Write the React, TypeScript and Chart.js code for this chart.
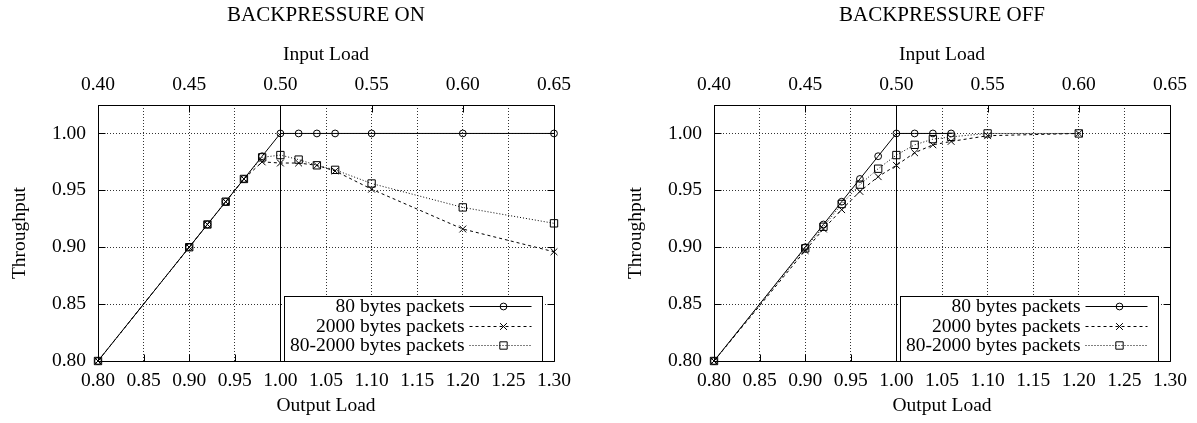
import React, { useEffect, useRef } from "react";
import { Chart, registerables } from "chart.js";

Chart.register(...registerables);

const SERIF = "'Liberation Serif', 'Times New Roman', Times, serif";

// Axis ticks: output load (bottom), input load (top), throughput (left)
const outputLoadTicks = [0.8, 0.85, 0.9, 0.95, 1.0, 1.05, 1.1, 1.15, 1.2, 1.25, 1.3];
const inputLoadTicks = [0.4, 0.45, 0.5, 0.55, 0.6, 0.65];
const throughputTicks = [0.8, 0.85, 0.9, 0.95, 1.0];

const seriesLabels = ["80 bytes packets", "2000 bytes packets", "80-2000 bytes packets"];

// Backpressure on
const onLoad = [0.8, 0.9, 0.92, 0.94, 0.96, 0.98, 1.0, 1.02, 1.04, 1.06, 1.1, 1.2, 1.3];
const on80 = [0.8, 0.9, 0.92, 0.94, 0.96, 0.98, 1.0, 1.0, 1.0, 1.0, 1.0, 1.0, 1.0];
const on2000 = [0.8, 0.9, 0.92, 0.94, 0.96, 0.975, 0.974, 0.974, 0.972, 0.967, 0.951, 0.916, 0.896];
const onMixed = [0.8, 0.9, 0.92, 0.94, 0.96, 0.979, 0.981, 0.977, 0.972, 0.968, 0.956, 0.935, 0.921];

// Backpressure off
const off80Load = [0.8, 0.9, 0.92, 0.94, 0.96, 0.98, 1.0, 1.02, 1.04, 1.06];
const off80 = [0.8, 0.9, 0.92, 0.94, 0.96, 0.98, 1.0, 1.0, 1.0, 1.0];
const offLoad = [0.8, 0.9, 0.92, 0.94, 0.96, 0.98, 1.0, 1.02, 1.04, 1.06, 1.1, 1.2];
const off2000 = [0.8, 0.897, 0.916, 0.933, 0.949, 0.962, 0.972, 0.983, 0.99, 0.993, 0.998, 1.0];
const offMixed = [0.8, 0.899, 0.918, 0.938, 0.955, 0.969, 0.981, 0.99, 0.995, 0.997, 1.0, 1.0];

type Marker = "circle" | "crossRot" | "rect";
const seriesStyles: { dash: number[]; marker: Marker; radius: number }[] = [
  { dash: [], marker: "circle", radius: 3.4 },
  { dash: [3, 3], marker: "crossRot", radius: 4.8 },
  { dash: [1, 2], marker: "rect", radius: 5.2 },
];

const CANVAS_W = 652;
const CANVAS_H = 423;
const AREA_TOP = 105;
const AREA_BOTTOM = 361;
const SIDE_W = 98;
const TITLE_SIZE = 21;
const TITLE_PAD_TOP = 3;
const TITLE_H = TITLE_SIZE * 1.2 + TITLE_PAD_TOP;
const TICK_LEN = 7;
const GRID = "rgba(0,0,0,0.8)";

const textFont = { family: SERIF, size: 19.5 };
const fmt = (v: any) => Number(v).toFixed(2);

function drawMarker(ctx: CanvasRenderingContext2D, marker: Marker, x: number, y: number, r: number) {
  ctx.beginPath();
  if (marker === "circle") {
    ctx.arc(x, y, r, 0, Math.PI * 2);
  } else if (marker === "crossRot") {
    const d = r * Math.SQRT1_2;
    ctx.moveTo(x - d, y - d);
    ctx.lineTo(x + d, y + d);
    ctx.moveTo(x + d, y - d);
    ctx.lineTo(x - d, y + d);
  } else {
    const d = r * Math.SQRT1_2;
    ctx.rect(x - d, y - d, 2 * d, 2 * d);
  }
  ctx.stroke();
}

// Frame, inward tick marks, the x = 1.00 line and the boxed key
const decorPlugin = {
  id: "decor",
  beforeDatasetsDraw(chart: any) {
    const { ctx, chartArea: a, scales } = chart;
    const px = Math.round(scales.x.getPixelForValue(1.0)) + 0.5;
    ctx.save();
    ctx.strokeStyle = "#000";
    ctx.lineWidth = 1;
    ctx.setLineDash([]);
    ctx.beginPath();
    ctx.moveTo(px, a.top);
    ctx.lineTo(px, a.bottom);
    ctx.stroke();
    ctx.restore();
  },
  afterDatasetsDraw(chart: any) {
    const { ctx, chartArea: a, scales } = chart;
    ctx.save();
    ctx.strokeStyle = "#000";
    ctx.lineWidth = 1;
    ctx.setLineDash([]);
    const L = Math.round(a.left) + 0.5;
    const R = Math.round(a.right) + 0.5;
    const T = Math.round(a.top) + 0.5;
    const B = Math.round(a.bottom) + 0.5;
    ctx.beginPath();
    outputLoadTicks.forEach((v) => {
      const p = Math.round(scales.x.getPixelForValue(v)) + 0.5;
      ctx.moveTo(p, B);
      ctx.lineTo(p, B - TICK_LEN);
    });
    inputLoadTicks.forEach((v) => {
      const p = Math.round(scales.x2.getPixelForValue(v)) + 0.5;
      ctx.moveTo(p, T);
      ctx.lineTo(p, T + TICK_LEN);
    });
    throughputTicks.forEach((v) => {
      const p = Math.round(scales.y.getPixelForValue(v)) + 0.5;
      ctx.moveTo(L, p);
      ctx.lineTo(L + TICK_LEN, p);
      ctx.moveTo(R, p);
      ctx.lineTo(R - TICK_LEN, p);
    });
    ctx.stroke();

    // key
    const boxW = 258;
    const boxH = 65;
    const bx = Math.round(a.right - 12 - boxW) + 0.5;
    const by = Math.round(a.bottom - boxH) + 0.5;
    ctx.fillStyle = "#fff";
    ctx.fillRect(bx, by, boxW, boxH);
    ctx.strokeRect(bx, by, boxW, boxH);
    ctx.font = `${textFont.size}px ${SERIF}`;
    ctx.textAlign = "right";
    ctx.textBaseline = "alphabetic";
    ctx.fillStyle = "#000";
    chart.data.datasets.forEach((ds: any, i: number) => {
      const st = seriesStyles[i];
      const base = by + 15.7 + i * 19.3;
      ctx.fillText(ds.label, bx + 180, base);
      const ly = Math.round(base - 6) + 0.5;
      ctx.setLineDash(st.dash);
      ctx.beginPath();
      ctx.moveTo(bx + 185, ly);
      ctx.lineTo(bx + 247, ly);
      ctx.stroke();
      ctx.setLineDash([]);
      drawMarker(ctx, st.marker, bx + 219, ly, st.radius);
    });

    ctx.beginPath();
    ctx.rect(L, T, R - L, B - T);
    ctx.stroke();
    ctx.restore();
  },
};

function buildConfig(title: string, series: { x: number[]; y: number[] }[]): any {
  const datasets = series.map((s, i) => ({
    label: seriesLabels[i],
    data: s.x.map((x, j) => ({ x, y: s.y[j] })),
    borderColor: "#000",
    borderWidth: 1,
    borderDash: seriesStyles[i].dash,
    pointStyle: seriesStyles[i].marker,
    pointRadius: seriesStyles[i].radius,
    pointBorderColor: "#000",
    pointBackgroundColor: "rgba(0,0,0,0)",
    pointBorderWidth: 1,
    tension: 0,
    fill: false,
    clip: false,
    xAxisID: "x",
    yAxisID: "y",
  }));

  return {
    type: "line",
    data: { datasets },
    options: {
      responsive: false,
      animation: false,
      events: [],
      layout: { padding: 0 },
      plugins: {
        legend: { display: false },
        tooltip: { enabled: false },
        title: {
          display: true,
          text: title,
          color: "#000",
          font: { family: SERIF, size: TITLE_SIZE, weight: "normal", lineHeight: 1.2 },
          padding: { top: TITLE_PAD_TOP, bottom: 0 },
        },
      },
      scales: {
        x: {
          type: "linear",
          position: "bottom",
          min: 0.8,
          max: 1.3,
          afterBuildTicks: (s: any) => {
            s.ticks = outputLoadTicks.map((value) => ({ value }));
          },
          afterFit: (s: any) => {
            s.height = CANVAS_H - AREA_BOTTOM;
          },
          ticks: { callback: fmt, font: textFont, color: "#000", padding: 8, maxRotation: 0, autoSkip: false },
          grid: { color: GRID, lineWidth: 1, drawTicks: false },
          border: { display: false, dash: [1, 2] },
          title: { display: true, text: "Output Load", font: textFont, color: "#000", padding: { top: 0, bottom: 5 } },
        },
        x2: {
          type: "linear",
          position: "top",
          min: 0.4,
          max: 0.65,
          afterBuildTicks: (s: any) => {
            s.ticks = inputLoadTicks.map((value) => ({ value }));
          },
          afterFit: (s: any) => {
            s.height = AREA_TOP - TITLE_H;
          },
          ticks: { callback: fmt, font: textFont, color: "#000", padding: 8, maxRotation: 0, autoSkip: false },
          grid: { display: false, drawTicks: false },
          border: { display: false },
          title: { display: true, text: "Input Load", font: textFont, color: "#000", padding: { top: 15, bottom: 0 } },
        },
        y: {
          type: "linear",
          position: "left",
          min: 0.8,
          max: 1.025,
          afterBuildTicks: (s: any) => {
            s.ticks = throughputTicks.map((value) => ({ value }));
          },
          afterFit: (s: any) => {
            s.width = SIDE_W;
          },
          ticks: { callback: fmt, font: textFont, color: "#000", padding: 12 },
          grid: { color: GRID, lineWidth: 1, drawTicks: false },
          border: { display: false, dash: [1, 2] },
          title: { display: true, text: "Throughput", font: textFont, color: "#000", padding: { top: 8, bottom: 0 } },
        },
        y2: {
          type: "linear",
          position: "right",
          min: 0.8,
          max: 1.025,
          afterFit: (s: any) => {
            s.width = SIDE_W;
          },
          ticks: { display: false },
          grid: { display: false, drawTicks: false },
          border: { display: false },
        },
      },
    },
    plugins: [decorPlugin],
  };
}

function ThroughputChart({ title, series, left }: { title: string; series: { x: number[]; y: number[] }[]; left: number }) {
  const ref = useRef<HTMLCanvasElement | null>(null);
  useEffect(() => {
    if (!ref.current) return;
    const chart = new Chart(ref.current, buildConfig(title, series));
    return () => chart.destroy();
  }, [title, series]);
  return (
    <canvas
      ref={ref}
      width={CANVAS_W}
      height={CANVAS_H}
      style={{ position: "absolute", left, top: 0, width: CANVAS_W, height: CANVAS_H }}
    />
  );
}

const onSeries = [
  { x: onLoad, y: on80 },
  { x: onLoad, y: on2000 },
  { x: onLoad, y: onMixed },
];
const offSeries = [
  { x: off80Load, y: off80 },
  { x: offLoad, y: off2000 },
  { x: offLoad, y: offMixed },
];

export default function App() {
  return (
    <div
      style={{
        position: "fixed",
        left: 0,
        top: 0,
        width: 1197,
        height: 423,
        overflow: "hidden",
        background: "#fff",
      }}
    >
      <ThroughputChart title="BACKPRESSURE ON" series={onSeries} left={0} />
      <ThroughputChart title="BACKPRESSURE OFF" series={offSeries} left={616} />
    </div>
  );
}
